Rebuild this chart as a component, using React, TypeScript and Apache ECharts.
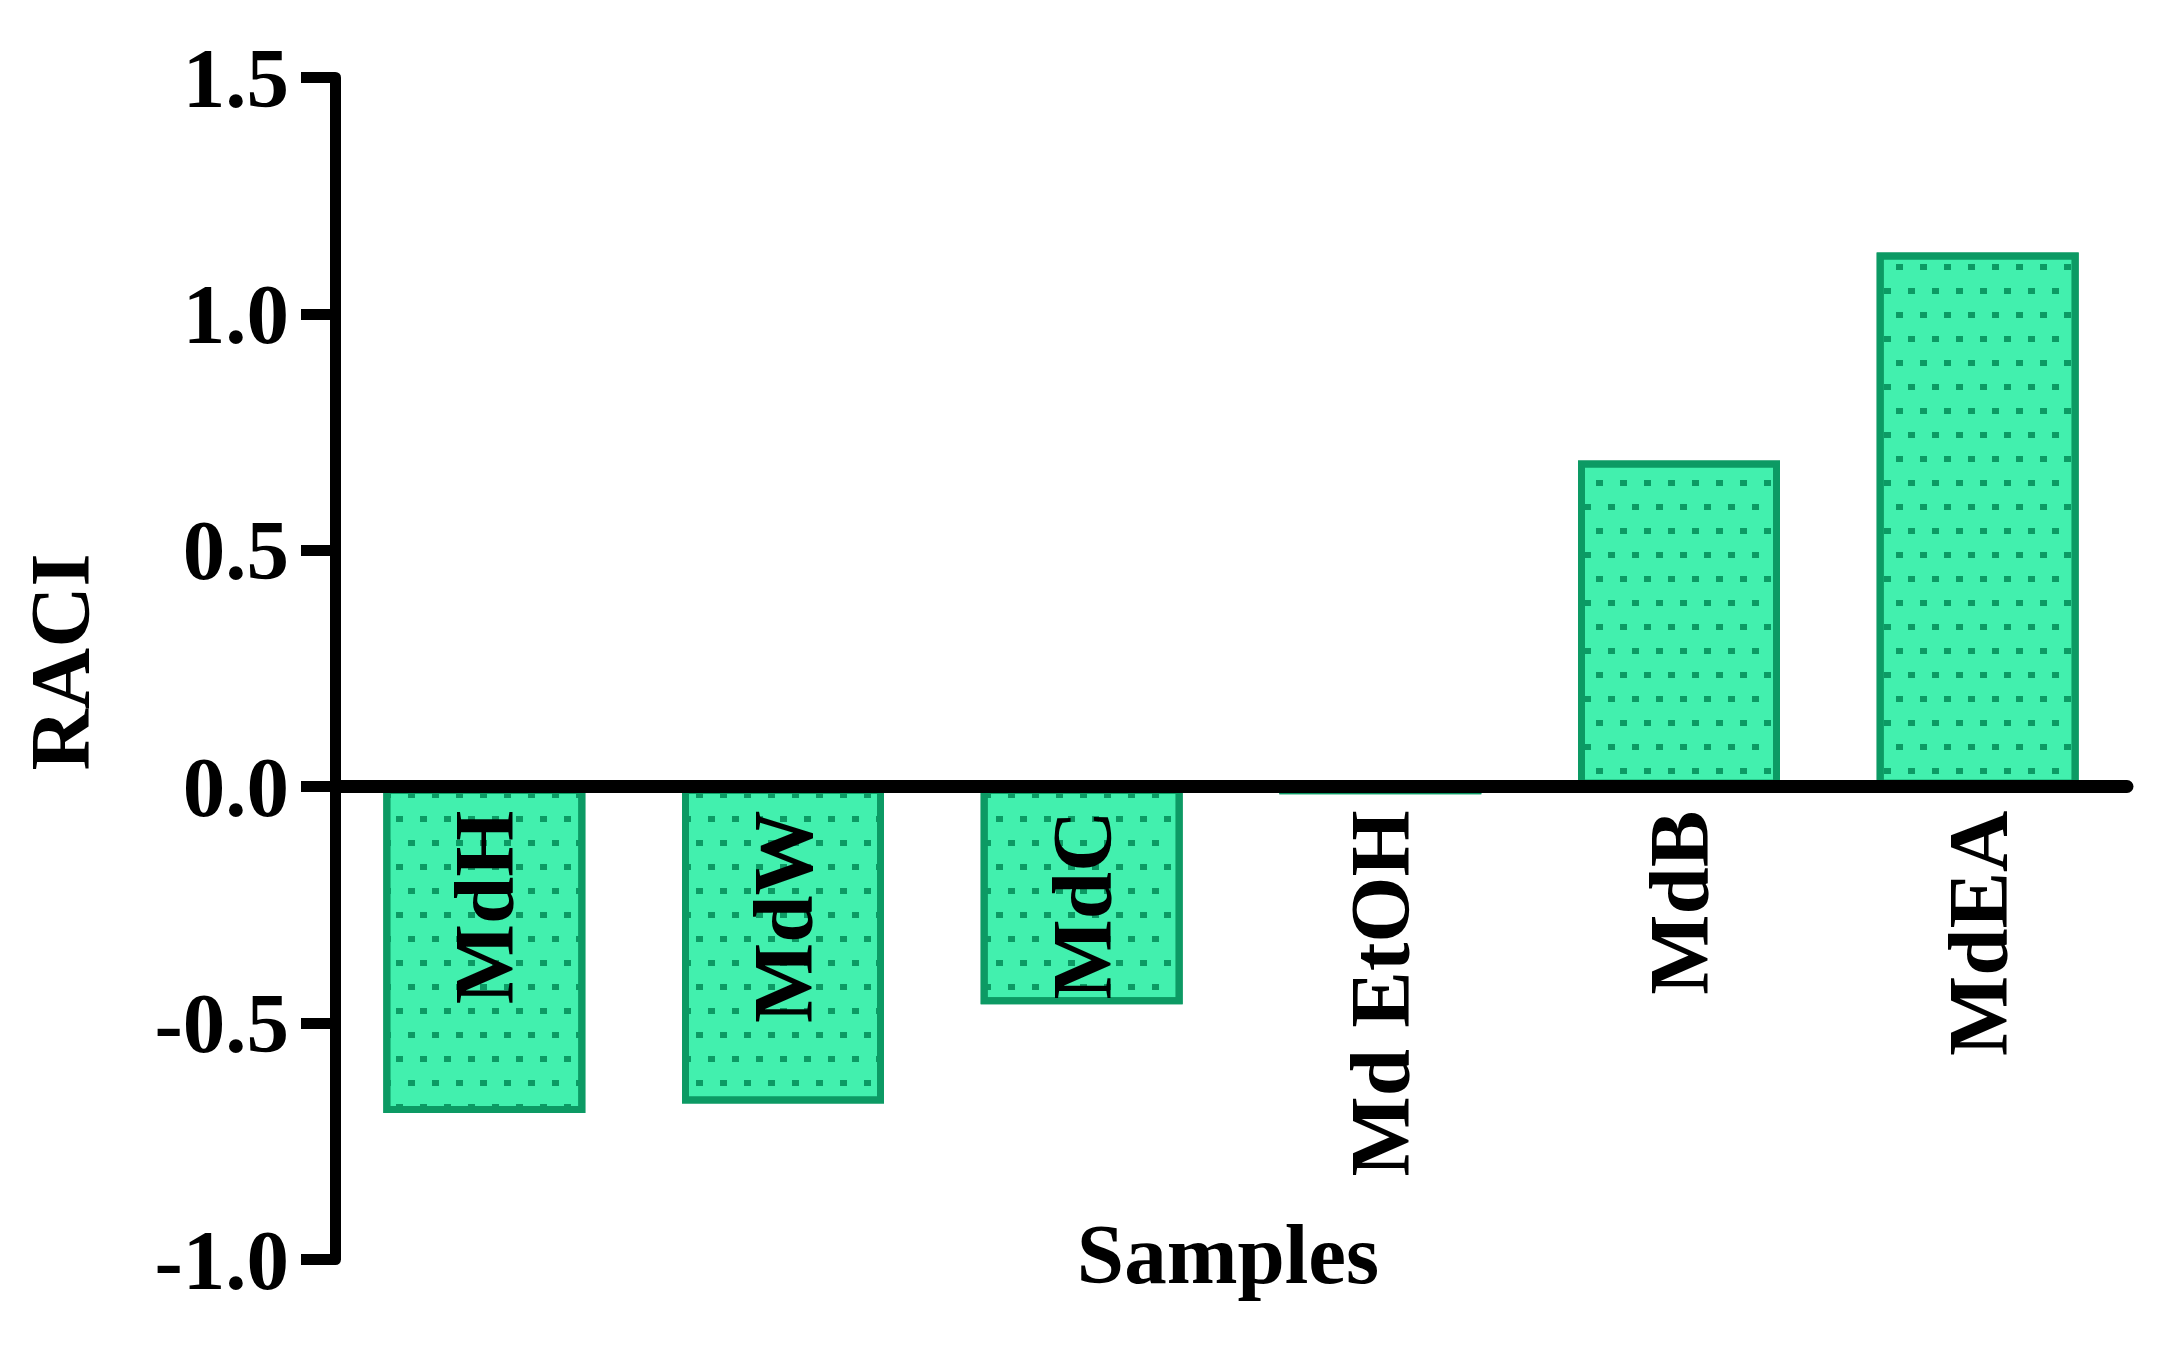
import React, { useEffect, useRef } from "react";
import * as echarts from "echarts";

const categories: string[] = ["MdH", "MdW", "MdC", "Md EtOH", "MdB", "MdEA"];
const raciValues: number[] = [-0.69, -0.67, -0.46, -0.016, 0.69, 1.13];
const yMin = -1.0;
const yMax = 1.5;
const yInterval = 0.5;
const yAxisName = "RACI";
const xAxisName = "Samples";

export default function App() {
  const ref = useRef<HTMLDivElement>(null);

  useEffect(() => {
    if (!ref.current) return;
    const chart = echarts.init(ref.current, null, { renderer: "svg" });
    const font = '"Liberation Serif", "Times New Roman", serif';
    chart.setOption({
      animation: false,
      backgroundColor: "#ffffff",
      grid: {
        left: 335,
        right: 34,
        top: 77.5,
        bottom: 104.5,
        containLabel: false,
        outerBoundsMode: "none",
      },
      xAxis: {
        type: "category",
        data: categories,
        z: 10,
        axisLine: { show: true, onZero: true, lineStyle: { color: "#000000", width: 13 } },
        axisTick: { show: false },
        splitLine: { show: false },
        axisLabel: {
          interval: 0,
          rotate: 90,
          margin: -449,
          color: "#000000",
          fontFamily: font,
          fontWeight: "bold",
          fontSize: 85,
          padding: [0, 0, 15, 0],
        },
      },
      yAxis: {
        type: "value",
        min: yMin,
        max: yMax,
        interval: yInterval,
        z: 10,
        axisLine: { show: true, onZero: false, lineStyle: { color: "#000000", width: 11 } },
        axisTick: { show: true, inside: false, length: 34, lineStyle: { color: "#000000", width: 11 } },
        splitLine: { show: false },
        axisLabel: {
          margin: 46,
          color: "#000000",
          fontFamily: font,
          fontWeight: "bold",
          fontSize: 85,
          padding: [0, 0, 16, 0],
          formatter: (v: number) => v.toFixed(1),
        },
      },
      series: [
        {
          type: "bar",
          data: raciValues,
          barWidth: 202,
          itemStyle: {
            color: "#42F0AE",
            borderColor: "#0C9A64",
            borderWidth: 7,
            decal: {
              symbol: "rect",
              symbolSize: 1,
              color: "#0C9A64",
              dashArrayX: [
                [7, 17],
                [0, 12, 7, 5],
              ],
              dashArrayY: [6, 18],
              rotation: 0,
            },
          },
        },
      ],
      graphic: [
        {
          type: "text",
          x: 60,
          y: 662,
          rotation: Math.PI / 2,
          style: {
            text: yAxisName,
            fill: "#000000",
            fontFamily: font,
            fontWeight: "bold",
            fontSize: 85,
            textAlign: "center",
            textVerticalAlign: "middle",
          },
        },
        {
          type: "text",
          x: 1228,
          y: 1254,
          style: {
            text: xAxisName,
            fill: "#000000",
            fontFamily: font,
            fontWeight: "bold",
            fontSize: 85,
            textAlign: "center",
            textVerticalAlign: "middle",
          },
        },
      ],
    });
    return () => {
      chart.dispose();
    };
  }, []);

  return (
    <div
      ref={ref}
      style={{ position: "fixed", left: 0, top: 0, width: 2161, height: 1364, background: "#ffffff" }}
    />
  );
}
